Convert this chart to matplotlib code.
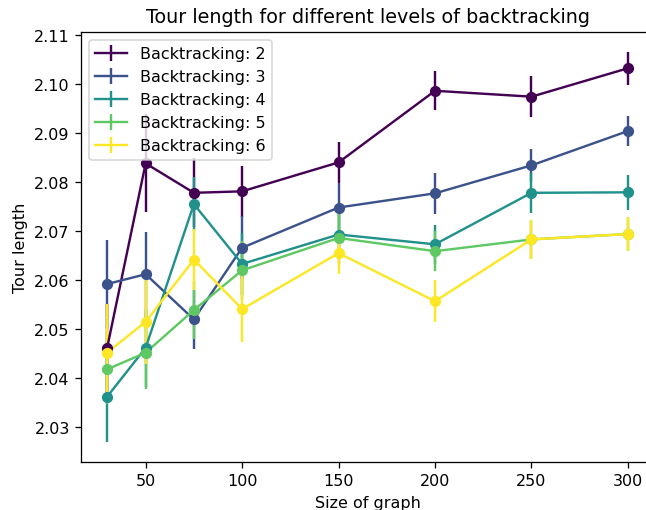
import numpy as np
import matplotlib
matplotlib.use("Agg")
import matplotlib.pyplot as plt

sizes = [30, 50, 75, 100, 150, 200, 250, 300]
levels = [2, 3, 4, 5, 6]

# mean tour length per backtracking level
mean_2 = [2.0461, 2.0838, 2.0778, 2.0781, 2.0840, 2.0986, 2.0974, 2.1032]
mean_3 = [2.0592, 2.0612, 2.0520, 2.0666, 2.0748, 2.0777, 2.0834, 2.0904]
mean_4 = [2.0362, 2.0462, 2.0755, 2.0633, 2.0693, 2.0673, 2.0778, 2.0779]
mean_5 = [2.0418, 2.0452, 2.0539, 2.0620, 2.0686, 2.0659, 2.0683, 2.0694]
mean_6 = [2.0452, 2.0515, 2.0642, 2.0541, 2.0655, 2.0557, 2.0683, 2.0694]

# error bar half-widths
err_2 = [0.0090, 0.0100, 0.0070, 0.0052, 0.0042, 0.0040, 0.0042, 0.0034]
err_3 = [0.0090, 0.0087, 0.0060, 0.0064, 0.0051, 0.0042, 0.0034, 0.0030]
err_4 = [0.0093, 0.0080, 0.0055, 0.0064, 0.0050, 0.0040, 0.0041, 0.0036]
err_5 = [0.0070, 0.0074, 0.0060, 0.0060, 0.0055, 0.0041, 0.0040, 0.0035]
err_6 = [0.0100, 0.0085, 0.0062, 0.0068, 0.0043, 0.0043, 0.0040, 0.0034]

means = [mean_2, mean_3, mean_4, mean_5, mean_6]
errs = [err_2, err_3, err_4, err_5, err_6]

colors = plt.cm.viridis(np.linspace(0, 1, len(levels)))

dpi = 115
fig = plt.figure(figsize=(646 / dpi, 511 / dpi), dpi=dpi)
ax = fig.add_axes([0.1254, 0.0939, 0.887, 0.8415])

for lvl, m, e, c in zip(levels, means, errs, colors):
    ax.errorbar(sizes, m, yerr=e, color=c, label=f"Backtracking: {lvl}")
    ax.scatter(sizes, m, color=c, s=36, zorder=3)

ax.set_xlabel("Size of graph")
ax.set_ylabel("Tour length")
ax.set_title("Tour length for different levels of backtracking")
ax.legend(loc="upper left")

fig.savefig("out.png", dpi=dpi)
